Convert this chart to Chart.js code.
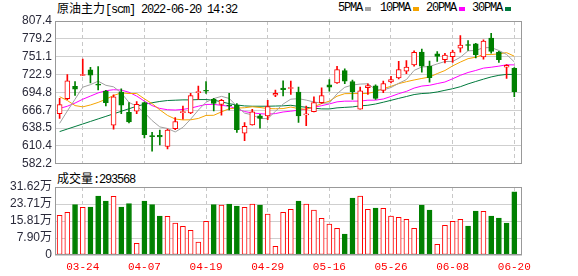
<!DOCTYPE html>
<html>
<head>
<meta charset="utf-8">
<script src="https://cdn.jsdelivr.net/npm/chart.js@4.4.0/dist/chart.umd.min.js"></script>
<style>
body { margin: 0; background: #fff; width: 578px; height: 276px; overflow: hidden; position: relative; }
canvas { position: absolute; left: 0; }
#kChart { top: 0; }
#volChart { top: 170px; }
.txt { position: absolute; font-size: 12px; line-height: 14px; color: #000; white-space: nowrap; }
.cjk { font-family: "Noto Sans CJK SC", sans-serif; }
.mono { font-family: "Liberation Mono", monospace; letter-spacing: -1.2px; }
.box { position: absolute; top: 7px; width: 6px; height: 4px; }
</style>
</head>
<body>

<div class="txt" style="left:57px;top:1px;"><span class="cjk">原油主力</span><span class="mono">[scm] 2022-06-20 14:32</span></div>

<div class="txt mono" style="left:338px;top:1px;">5PMA</div>
<div class="box" style="left:365px;background:#a6a6a6;"></div>
<div class="txt mono" style="left:380px;top:1px;">10PMA</div>
<div class="box" style="left:413px;background:#f5a400;"></div>
<div class="txt mono" style="left:426px;top:1px;">20PMA</div>
<div class="box" style="left:459px;background:#ff00ff;"></div>
<div class="txt mono" style="left:472px;top:1px;">30PMA</div>
<div class="box" style="left:505px;background:#007a3d;"></div>

<div class="txt" style="left:57px;top:171px;"><span class="cjk">成交量</span><span class="mono" id="volNow"></span></div>

<canvas id="kChart" width="578" height="174"></canvas>
<canvas id="volChart" width="578" height="106"></canvas>

<script>
/*---- data ----- */

var dates = ["03-21", "03-22", "03-23", "03-24", "03-25", "03-28", "03-29", "03-30", "03-31", "04-01",
             "04-06", "04-07", "04-08", "04-11", "04-12", "04-13", "04-14", "04-15", "04-18", "04-19",
             "04-20", "04-21", "04-22", "04-25", "04-26", "04-27", "04-28", "04-29", "05-05", "05-06",
             "05-09", "05-10", "05-11", "05-12", "05-13", "05-16", "05-17", "05-18", "05-19", "05-20",
             "05-23", "05-24", "05-25", "05-26", "05-27", "05-30", "05-31", "06-01", "06-02", "06-06",
             "06-07", "06-08", "06-09", "06-10", "06-13", "06-14", "06-15", "06-16", "06-17", "06-20"];

var openP  = [661.4, 685.0, 704.2, 721.5, 730.2, 708.0, 696.9, 643.2, 695.3, 663.5,
              665.1, 678.6, 626.0, 627.0, 609.8, 637.5, 663.0, 662.5, 694.3, 697.4,
              683.8, 676.0, 674.5, 675.0, 630.7, 643.7, 657.8, 657.8, 690.6, 701.6,
              701.0, 695.3, 659.4, 664.6, 678.6, 706.8, 709.9, 729.2, 712.0, 668.2,
              702.1, 705.2, 697.9, 711.5, 717.7, 728.2, 738.1, 758.4, 736.5, 755.8,
              746.4, 751.1, 764.7, 769.8, 771.4, 750.6, 780.3, 758.4, 734.4, 732.8];
var highP  = [685.4, 722.9, 712.0, 747.4, 734.4, 735.5, 697.9, 691.1, 700.5, 678.6,
              680.2, 679.7, 631.7, 635.4, 637.0, 655.2, 673.4, 693.2, 704.7, 712.0,
              685.4, 683.8, 693.2, 677.1, 647.4, 668.2, 660.4, 682.3, 698.4, 713.0,
              712.5, 703.1, 673.4, 688.0, 702.1, 715.1, 736.0, 731.8, 714.1, 703.1,
              708.4, 706.8, 712.5, 720.3, 743.8, 744.8, 760.5, 763.1, 744.3, 759.0,
              756.3, 761.0, 784.5, 776.6, 772.0, 777.7, 788.1, 759.4, 738.6, 733.9];
var lowP   = [653.6, 683.5, 690.1, 721.0, 709.9, 698.9, 673.4, 636.9, 661.4, 646.8,
              661.4, 622.9, 602.0, 611.9, 605.6, 635.9, 652.6, 661.4, 683.8, 693.2,
              665.6, 658.8, 667.2, 631.7, 618.7, 643.2, 638.5, 651.6, 688.0, 689.1,
              691.7, 647.4, 642.2, 664.0, 677.6, 696.9, 708.9, 708.4, 683.8, 668.2,
              691.7, 683.8, 694.3, 709.9, 716.1, 724.5, 736.0, 726.6, 711.0, 743.8,
              741.2, 742.2, 758.4, 761.0, 749.0, 747.4, 756.8, 742.2, 716.7, 688.0];
var closeP = [675.5, 713.0, 700.0, 722.9, 722.0, 706.3, 678.6, 688.0, 674.5, 648.4,
              676.0, 628.1, 625.0, 624.5, 635.4, 648.9, 664.6, 689.6, 696.0, 696.6,
              677.6, 682.3, 673.4, 636.0, 641.1, 664.0, 653.6, 672.4, 693.2, 699.0,
              702.1, 657.8, 661.0, 678.6, 689.6, 703.1, 730.8, 712.5, 695.8, 697.4,
              705.7, 685.4, 708.9, 715.1, 730.8, 734.9, 757.9, 736.0, 718.2, 751.6,
              753.7, 758.4, 769.3, 768.8, 754.2, 775.6, 759.4, 746.4, 737.5, 695.8];

var volume = [184450, 198400, 234050, 221650, 223200, 274350, 251100, 272800, 223200, 238700,
              54250, 251100, 234050, 181350, 179800, 148800, 133300, 114700, 60450, 156550,
              234050, 232500, 237150, 227850, 221650, 237150, 232500, 190650, 40300, 198400,
              212350, 251100, 237150, 209250, 170500, 144150, 124000, 97650, 265050, 274350,
              212350, 218550, 217000, 181350, 175150, 165850, 124000, 232500, 209250, 49600,
              137950, 156550, 165850, 134850, 204600, 203050, 181350, 172050, 148800, 293568];

var ma5  = [646.0, 665.5, 684.0, 703.0, 707.0, 712.5, 706.0, 703.6, 694.0, 679.0,
            673.0, 663.0, 650.4, 640.4, 637.9, 632.4, 639.7, 652.6, 666.9, 679.3,
            685.0, 688.6, 685.3, 673.1, 662.1, 659.4, 653.6, 653.4, 664.9, 676.4,
            684.1, 684.9, 682.6, 679.7, 677.8, 678.0, 692.6, 702.9, 706.4, 707.9,
            708.4, 699.4, 698.6, 702.5, 709.2, 715.0, 729.5, 734.9, 735.6, 739.7,
            743.5, 743.6, 750.2, 760.4, 760.9, 765.3, 765.5, 760.9, 754.6, 742.9];
var ma10 = [688.0, 682.0, 674.0, 672.0, 675.0, 679.0, 684.0, 690.0, 694.0, 693.0,
            693.1, 684.6, 677.1, 667.3, 658.5, 652.8, 651.4, 651.6, 653.7, 658.5,
            658.7, 664.1, 669.0, 670.1, 670.6, 672.1, 671.0, 669.3, 669.0, 669.3,
            671.7, 669.3, 668.0, 672.3, 677.1, 681.0, 688.8, 692.8, 693.0, 692.9,
            693.2, 696.0, 700.8, 704.4, 708.6, 711.7, 714.4, 716.8, 719.0, 724.5,
            729.3, 736.6, 742.6, 748.0, 750.3, 754.4, 754.5, 755.6, 757.5, 751.9];
var ma20 = [669.5, 673.0, 678.0, 684.0, 689.0, 694.0, 697.5, 699.0, 698.5, 695.0,
            689.0, 681.0, 674.0, 669.5, 667.5, 667.0, 668.0, 670.0, 673.0, 675.8,
            675.9, 674.4, 673.0, 668.7, 664.6, 662.5, 661.2, 660.4, 661.4, 663.9,
            665.2, 666.7, 668.5, 671.2, 673.9, 676.6, 679.9, 681.0, 681.0, 681.1,
            682.5, 682.6, 684.4, 688.4, 692.8, 696.4, 701.6, 704.8, 706.0, 708.7,
            711.2, 716.3, 721.7, 726.2, 729.4, 733.1, 734.5, 736.2, 738.3, 738.2];
var ma30 = [633.0, 637.0, 641.0, 645.0, 649.0, 653.0, 657.0, 661.0, 665.0, 669.0,
            673.0, 676.0, 678.5, 680.5, 682.0, 682.5, 683.0, 683.0, 683.5, 683.5,
            682.5, 680.0, 677.0, 675.0, 673.5, 673.0, 673.0, 673.0, 673.3, 673.6,
            674.5, 672.7, 671.4, 669.9, 668.8, 668.7, 670.4, 671.2, 671.9, 673.6,
            674.5, 676.5, 679.3, 682.3, 685.4, 688.3, 691.4, 693.0, 693.7, 695.5,
            698.1, 700.6, 703.8, 708.2, 712.0, 715.7, 719.2, 721.7, 723.2, 723.1];

var priceTicks = [582.2, 610.4, 638.5, 666.7, 694.8, 722.9, 751.1, 779.2, 807.4];
var volTicks = [0, 79050, 158100, 237150, 316200];
var volTickLabels = ["0", "7.90万", "15.81万", "23.71万", "31.62万"];
var dateTicks = ["03-24", "04-07", "04-19", "04-29", "05-16", "05-26", "06-08", "06-20"];

/*---- kleuren ----- */

var RED = '#ff0000';
var GREEN = '#008000';
var tickIdx = dateTicks.map(function (d) { return dates.indexOf(d); });
var up = closeP.map(function (c, i) { return c >= openP[i]; });
// volume colour follows close vs previous close
var volUp = closeP.map(function (c, i) { return i == 0 || c >= closeP[i - 1]; });

document.getElementById('volNow').textContent = ':' + volume[volume.length - 1];

function pts(arr) {
	return arr.map(function (v, i) { return { x: i, y: v }; });
}

// grey frame round the plot area
var frame = {
	id: 'frame',
	afterDraw: function (chart) {
		var a = chart.chartArea, c = chart.ctx;
		c.save();
		c.strokeStyle = '#999';
		c.lineWidth = 1;
		c.strokeRect(Math.round(a.left) + 0.5, Math.round(a.top) + 0.5,
			Math.round(a.right - a.left) - 1, Math.round(a.bottom - a.top) - 1);
		c.restore();
	}
};

function xAxis(showLabels) {
	return {
		type: 'linear',
		min: -0.6,
		max: 60,
		offset: false,
		afterBuildTicks: function (s) { s.ticks = tickIdx.map(function (v) { return { value: v }; }); },
		afterFit: function (s) { s.height = showLabels ? 21 : 0; },
		grid: { color: '#c8c8c8', drawTicks: false, offset: false },
		border: { display: false, dash: [4, 3] },
		ticks: {
			display: showLabels,
			autoSkip: false,
			maxRotation: 0,
			padding: 5,
			color: RED,
			font: { family: 'Liberation Mono', size: 11 },
			callback: function (v) { return dates[v]; }
		}
	};
}

/*---- K-lijn ----- */

var kChart = new Chart(document.getElementById('kChart'), {
	type: 'bar',
	data: {
		datasets: [{
			label: 'body',
			data: dates.map(function (d, i) { return { x: i, y: [openP[i], closeP[i]] }; }),
			backgroundColor: up.map(function (u) { return u ? '#fff' : GREEN; }),
			borderColor: up.map(function (u) { return u ? RED : GREEN; }),
			borderWidth: 1,
			borderSkipped: false,
			barThickness: 5,
			minBarLength: 1,
			grouped: false,
			order: 1
		}, {
			label: 'wick',
			data: dates.map(function (d, i) { return { x: i, y: [lowP[i], highP[i]] }; }),
			backgroundColor: up.map(function (u) { return u ? RED : GREEN; }),
			borderWidth: 0,
			barThickness: 1,
			grouped: false,
			order: 2
		}, {
			type: 'line', label: '5PMA', data: pts(ma5),
			borderColor: '#a0a0a0', borderWidth: 1, pointRadius: 0, order: 3
		}, {
			type: 'line', label: '10PMA', data: pts(ma10),
			borderColor: '#f5a400', borderWidth: 1, pointRadius: 0, order: 3
		}, {
			type: 'line', label: '20PMA', data: pts(ma20),
			borderColor: '#ff00ff', borderWidth: 1, pointRadius: 0, order: 3
		}, {
			type: 'line', label: '30PMA', data: pts(ma30),
			borderColor: '#007a3d', borderWidth: 1, pointRadius: 0, order: 3
		}]
	},
	options: {
		responsive: false,
		animation: false,
		layout: { padding: { left: 0, top: 21, right: 56, bottom: 9 } },
		plugins: { legend: { display: false }, tooltip: { enabled: false } },
		scales: {
			x: xAxis(false),
			y: {
				min: 582.2,
				max: 807.4,
				afterBuildTicks: function (s) { s.ticks = priceTicks.map(function (v) { return { value: v }; }); },
				afterFit: function (s) { s.width = 55; },
				grid: { color: '#cfcfcf', drawTicks: false },
				border: { display: false },
				ticks: {
					autoSkip: false,
					padding: 3,
					color: '#2a2a3a',
					font: { family: 'Liberation Sans', size: 12 },
					callback: function (v) { return v.toFixed(1); }
				}
			}
		}
	},
	plugins: [frame]
});

/*---- volume ----- */

var volChart = new Chart(document.getElementById('volChart'), {
	type: 'bar',
	data: {
		datasets: [{
			label: '成交量',
			data: pts(volume),
			backgroundColor: volUp.map(function (u) { return u ? '#fff' : GREEN; }),
			borderColor: volUp.map(function (u) { return u ? RED : GREEN; }),
			borderWidth: 1,
			borderSkipped: false,
			barThickness: 5,
			grouped: false
		}]
	},
	options: {
		responsive: false,
		animation: false,
		layout: { padding: { left: 0, top: 17, right: 56, bottom: 0 } },
		plugins: { legend: { display: false }, tooltip: { enabled: false } },
		scales: {
			x: xAxis(true),
			y: {
				min: 0,
				max: 316200,
				afterBuildTicks: function (s) { s.ticks = volTicks.map(function (v) { return { value: v }; }); },
				afterFit: function (s) { s.width = 55; },
				grid: { color: '#cfcfcf', drawTicks: false },
				border: { display: false },
				ticks: {
					autoSkip: false,
					padding: 3,
					color: '#2a2a3a',
					font: { family: '"Liberation Sans", "Noto Sans CJK SC"', size: 12 },
					callback: function (v, i) { return volTickLabels[i]; }
				}
			}
		}
	},
	plugins: [frame]
});
</script>
</body>
</html>
